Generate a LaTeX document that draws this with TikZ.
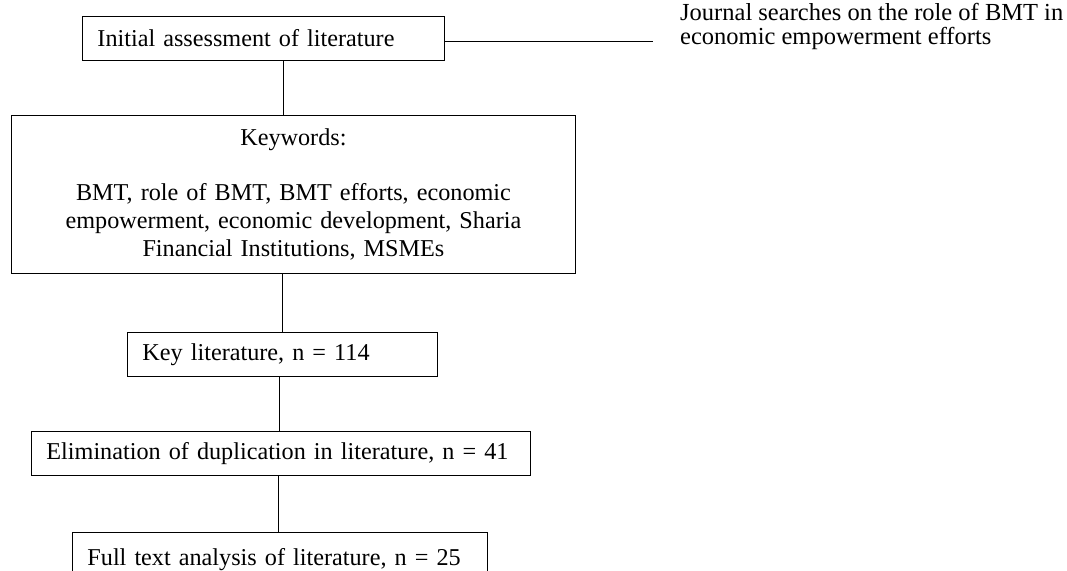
\documentclass[tikz,border=0pt]{standalone}
\usepackage{fontspec}
\setmainfont{Liberation Serif}
\begin{document}
\begin{tikzpicture}[x=1pt,y=-1pt,
  txt/.style={font=\fontsize{24.2}{28}\selectfont},
  box/.style={txt, draw, line width=0.9pt, anchor=north west, inner ysep=0pt},
  leftbox/.style={box, align=left, inner xsep=15pt},
  conn/.style={line width=0.9pt}]
\useasboundingbox (0,0) rectangle (1067,570);
\clip (0,0) rectangle (1067,570);
\node[leftbox, minimum width=362pt, text width=332pt, minimum height=44pt] (b1) at (82,16) {Initial assessment of literature};
\node[box, align=center, minimum width=564pt, text width=534pt, inner xsep=15pt, minimum height=158pt] (b2) at (11,115)
  {Keywords:\\[27pt]BMT, role of BMT, BMT efforts, economic\\empowerment, economic development, Sharia\\Financial Institutions, MSMEs};
\node[leftbox, minimum width=310pt, text width=280pt, minimum height=44pt] (b3) at (127,332) {Key literature, n = 114};
\node[leftbox, minimum width=499pt, text width=469pt, minimum height=44pt] (b4) at (31,431) {Elimination of duplication in literature, n = 41};
\node[leftbox, minimum width=415pt, text width=385pt, minimum height=54pt] (b5) at (72,532) {Full text analysis of literature, n = 25};
\node[align=left, anchor=north west, inner sep=0pt, font=\fontsize{24.5}{24}\selectfont] (jt) at (680,3) {Journal searches on the role of BMT in\\economic empowerment efforts};
\coordinate (x1) at (283,0);
\coordinate (x2) at (282,0);
\coordinate (x3) at (279,0);
\coordinate (x4) at (278,0);
\coordinate (jend) at (653,41);
\draw[conn] (b1.south -| x1) -- (b2.north -| x1);
\draw[conn] (b2.south -| x2) -- (b3.north -| x2);
\draw[conn] (b3.south -| x3) -- (b4.north -| x3);
\draw[conn] (b4.south -| x4) -- (b5.north -| x4);
\draw[conn] (b1.east |- jend) -- (jend);
\end{tikzpicture}
\end{document}
